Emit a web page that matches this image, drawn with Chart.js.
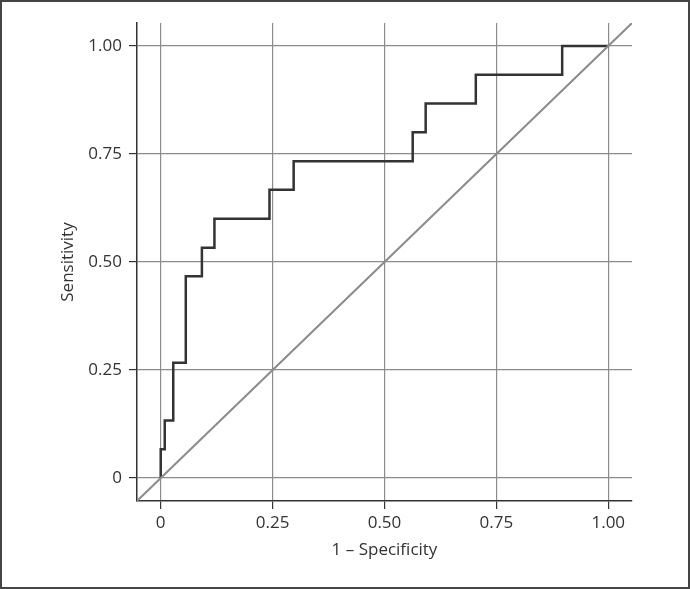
<!DOCTYPE html>
<html>
<head>
<meta charset="utf-8">
<script src="https://cdn.jsdelivr.net/npm/chart.js@4/dist/chart.umd.min.js"></script>
<style>
  body { margin: 0; background: #fff; }
  #wrap { position: relative; width: 690px; height: 589px; }
  #frame { position: absolute; left: 0; top: 0; width: 690px; height: 589px; box-sizing: border-box; border: 2px solid #444; pointer-events: none; }
</style>
</head>
<body>
<div id="wrap">
  <canvas id="roc" width="690" height="589"></canvas>
  <div id="frame"></div>
</div>
<script>
// ROC curve points (1 - specificity, sensitivity)
const fpr = [0, 0, 0.009, 0.028, 0.056, 0.092, 0.12, 0.243, 0.297, 0.563, 0.592, 0.704, 0.897, 1];
const tpr = [0, 0.067, 0.133, 0.267, 0.467, 0.533, 0.6, 0.667, 0.733, 0.8, 0.867, 0.933, 1, 1];

// ticks
const tickValues = [0, 0.25, 0.5, 0.75, 1];
const tickLabels = ['0', '0.25', '0.50', '0.75', '1.00'];

const axisMin = -0.053;
const axisMax = 1.053;

const textColor = '#333';
const gridColor = '#8c8c8c';
const fontFamily = '"Open Sans", "DejaVu Sans", sans-serif';

const rocPoints = fpr.map((x, i) => ({ x: x, y: tpr[i] }));
const refPoints = [{ x: axisMin, y: axisMin }, { x: axisMax, y: axisMax }];

function setTicks(scale) {
    scale.ticks = tickValues.map(v => ({ value: v }));
}

const ctx = document.getElementById('roc').getContext('2d');

new Chart(ctx, {
    type: 'scatter',
    data: {
        datasets: [
            {
                data: refPoints,
                showLine: true,
                borderColor: gridColor,
                borderWidth: 2,
                pointRadius: 0,
                clip: 0
            },
            {
                data: rocPoints,
                showLine: true,
                stepped: 'before',
                borderColor: '#333',
                borderWidth: 2.5,
                pointRadius: 0
            }
        ]
    },
    options: {
        responsive: false,
        animation: false,
        events: [],
        layout: { padding: { left: 0, top: 23, right: 58, bottom: 0 } },
        plugins: {
            legend: { display: false },
            tooltip: { enabled: false }
        },
        scales: {
            x: {
                type: 'linear',
                min: axisMin,
                max: axisMax,
                afterBuildTicks: setTicks,
                afterFit: function (scale) { scale.height = 88; },
                border: { display: true, color: '#333', width: 1.5 },
                grid: { color: gridColor, lineWidth: 1.2, tickColor: '#333', tickLength: 8 },
                ticks: {
                    padding: 4,
                    color: textColor,
                    font: { family: fontFamily, size: 17 },
                    maxRotation: 0,
                    callback: function (value) { return tickLabels[tickValues.indexOf(value)]; }
                },
                title: {
                    display: true,
                    text: '1 – Specificity',
                    color: textColor,
                    font: { family: fontFamily, size: 17 },
                    padding: { top: 0, bottom: 29 }
                }
            },
            y: {
                type: 'linear',
                min: axisMin,
                max: axisMax,
                afterBuildTicks: setTicks,
                afterFit: function (scale) { scale.width = 137; },
                border: { display: true, color: '#333', width: 1.5 },
                grid: { color: gridColor, lineWidth: 1.2, tickColor: '#333', tickLength: 8 },
                ticks: {
                    padding: 7,
                    color: textColor,
                    font: { family: fontFamily, size: 17 },
                    callback: function (value) { return tickLabels[tickValues.indexOf(value)]; }
                },
                title: {
                    display: true,
                    text: 'Sensitivity',
                    color: textColor,
                    font: { family: fontFamily, size: 17 },
                    padding: { top: 58, bottom: 0 }
                }
            }
        }
    }
});
</script>
</body>
</html>
